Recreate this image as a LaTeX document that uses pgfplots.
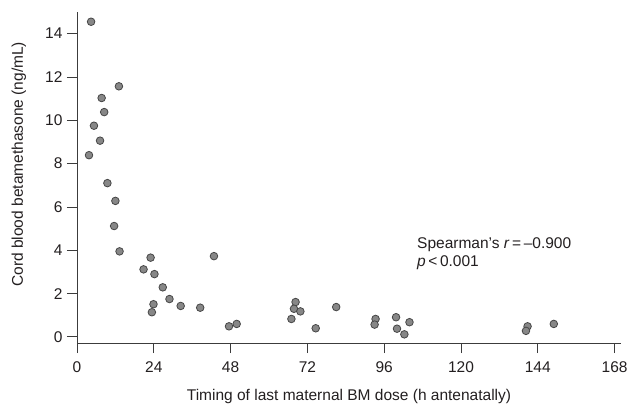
\documentclass[border=0pt]{standalone}
\usepackage{fontspec}
\setmainfont{Liberation Sans}
\usepackage{pgfplots}
\pgfplotsset{compat=1.18}
\usetikzlibrary{calc}
\definecolor{axisgray}{RGB}{60,60,60}
\definecolor{dotfill}{RGB}{135,135,135}
\definecolor{dotedge}{RGB}{70,70,70}
\definecolor{txt}{RGB}{35,31,32}

\begin{document}
\begin{tikzpicture}
\begin{axis}[
    name=ax,
    scale only axis,
    width=544pt, height=331pt,
    xmin=0, xmax=170,
    ymin=-0.28, ymax=15,
    axis lines=left,
    axis line style={axisgray, line width=0.9pt, -},
    xtick={0,24,...,168},
    ytick={0,2,...,14},
    tick align=outside,
    major tick length=10pt,
    tick style={axisgray, line width=0.9pt},
    xtick pos=bottom, ytick pos=left,
    font=\fontsize{15.5}{18}\selectfont,
    /pgf/number format/assume math mode=true,
    ticklabel style={txt},
    xticklabel style={yshift=-5pt},
    yticklabel style={xshift=-1pt},
    xlabel={Timing of last maternal BM dose (h antenatally)},
    ylabel={Cord blood betamethasone (ng/mL)},
    every axis x label/.style={at={(axis description cs:0.5,0)}, anchor=base, yshift=-57pt, txt},
    every axis y label/.style={at={(axis description cs:0,0.54)}, rotate=90, anchor=base, yshift=54pt, txt},
    clip=false,
]
\addplot[only marks, mark=*, mark size=3.8pt,
    mark options={fill=dotfill, draw=dotedge, line width=0.8pt}] coordinates {
    (4.4,14.55) (13.1,11.57) (7.7,11.03) (8.5,10.38) (5.3,9.75)
    (7.2,9.06) (3.75,8.39)
    (9.5,7.10) (12.0,6.28) (11.6,5.12) (13.3,3.95) (23.0,3.66)
    (20.8,3.12) (24.2,2.90) (42.8,3.73) (26.8,2.29) (28.9,1.75)
    (32.4,1.43) (38.5,1.35) (23.9,1.51) (23.4,1.14) (47.5,0.49)
    (49.9,0.60) (68.3,1.61) (67.8,1.30) (69.8,1.18) (67.0,0.83)
    (74.6,0.40) (81.0,1.38)
    (93.3,0.83) (93.0,0.57) (99.7,0.91) (100.0,0.38) (102.3,0.12)
    (103.9,0.68) (140.8,0.49) (140.3,0.28) (149.0,0.60)
};
\node[anchor=base west, inner sep=0pt, txt] at (axis cs:106.25,4.09) {Spearman’s \textit{r}\,=\,–0.900};
\node[anchor=base west, inner sep=0pt, txt] at (axis cs:106.25,3.24) {\textit{p}\,<\,0.001};
\end{axis}
\pgfresetboundingbox
\path[use as bounding box] ($(ax.south west)+(-77pt,-63pt)$) rectangle ($(ax.south west)+(551pt,343pt)$);
\end{tikzpicture}
\end{document}
